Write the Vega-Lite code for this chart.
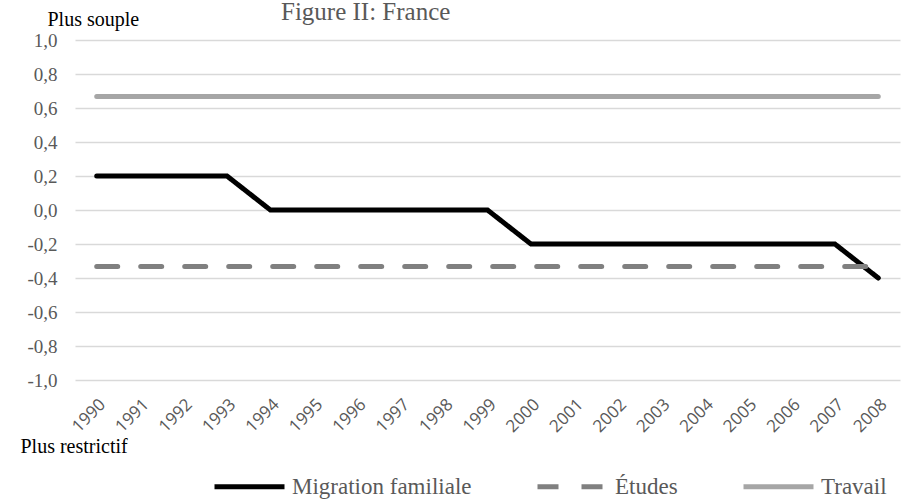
{
  "$schema": "https://vega.github.io/schema/vega-lite/v6.json",
  "width": 825,
  "height": 340,
  "autosize": {"type": "none"},
  "padding": {"left": 75, "top": 40, "right": 3, "bottom": 121},
  "background": "white",
  "title": {
    "text": "Figure II: France",
    "anchor": "start",
    "frame": "group",
    "dx": 206,
    "offset": -16,
    "font": "Liberation Serif",
    "fontSize": 25,
    "fontWeight": "normal",
    "color": "#595959"
  },
  "config": {"view": {"stroke": null}},
  "data": {
    "values": [
      {"year": "1990", "series": "Migration familiale", "value": 0.2},
      {"year": "1991", "series": "Migration familiale", "value": 0.2},
      {"year": "1992", "series": "Migration familiale", "value": 0.2},
      {"year": "1993", "series": "Migration familiale", "value": 0.2},
      {"year": "1994", "series": "Migration familiale", "value": 0},
      {"year": "1995", "series": "Migration familiale", "value": 0},
      {"year": "1996", "series": "Migration familiale", "value": 0},
      {"year": "1997", "series": "Migration familiale", "value": 0},
      {"year": "1998", "series": "Migration familiale", "value": 0},
      {"year": "1999", "series": "Migration familiale", "value": 0},
      {"year": "2000", "series": "Migration familiale", "value": -0.2},
      {"year": "2001", "series": "Migration familiale", "value": -0.2},
      {"year": "2002", "series": "Migration familiale", "value": -0.2},
      {"year": "2003", "series": "Migration familiale", "value": -0.2},
      {"year": "2004", "series": "Migration familiale", "value": -0.2},
      {"year": "2005", "series": "Migration familiale", "value": -0.2},
      {"year": "2006", "series": "Migration familiale", "value": -0.2},
      {"year": "2007", "series": "Migration familiale", "value": -0.2},
      {"year": "2008", "series": "Migration familiale", "value": -0.4},
      {"year": "1990", "series": "Études", "value": -0.333},
      {"year": "1991", "series": "Études", "value": -0.333},
      {"year": "1992", "series": "Études", "value": -0.333},
      {"year": "1993", "series": "Études", "value": -0.333},
      {"year": "1994", "series": "Études", "value": -0.333},
      {"year": "1995", "series": "Études", "value": -0.333},
      {"year": "1996", "series": "Études", "value": -0.333},
      {"year": "1997", "series": "Études", "value": -0.333},
      {"year": "1998", "series": "Études", "value": -0.333},
      {"year": "1999", "series": "Études", "value": -0.333},
      {"year": "2000", "series": "Études", "value": -0.333},
      {"year": "2001", "series": "Études", "value": -0.333},
      {"year": "2002", "series": "Études", "value": -0.333},
      {"year": "2003", "series": "Études", "value": -0.333},
      {"year": "2004", "series": "Études", "value": -0.333},
      {"year": "2005", "series": "Études", "value": -0.333},
      {"year": "2006", "series": "Études", "value": -0.333},
      {"year": "2007", "series": "Études", "value": -0.333},
      {"year": "2008", "series": "Études", "value": -0.333},
      {"year": "1990", "series": "Travail", "value": 0.667},
      {"year": "1991", "series": "Travail", "value": 0.667},
      {"year": "1992", "series": "Travail", "value": 0.667},
      {"year": "1993", "series": "Travail", "value": 0.667},
      {"year": "1994", "series": "Travail", "value": 0.667},
      {"year": "1995", "series": "Travail", "value": 0.667},
      {"year": "1996", "series": "Travail", "value": 0.667},
      {"year": "1997", "series": "Travail", "value": 0.667},
      {"year": "1998", "series": "Travail", "value": 0.667},
      {"year": "1999", "series": "Travail", "value": 0.667},
      {"year": "2000", "series": "Travail", "value": 0.667},
      {"year": "2001", "series": "Travail", "value": 0.667},
      {"year": "2002", "series": "Travail", "value": 0.667},
      {"year": "2003", "series": "Travail", "value": 0.667},
      {"year": "2004", "series": "Travail", "value": 0.667},
      {"year": "2005", "series": "Travail", "value": 0.667},
      {"year": "2006", "series": "Travail", "value": 0.667},
      {"year": "2007", "series": "Travail", "value": 0.667},
      {"year": "2008", "series": "Travail", "value": 0.667}
    ]
  },
  "mark": {"type": "line", "strokeWidth": 5, "strokeCap": "round", "strokeJoin": "miter"},
  "encoding": {
    "x": {
      "field": "year",
      "type": "ordinal",
      "scale": {"type": "point", "padding": 0.5},
      "axis": {
        "title": "Plus restrictif",
        "titleX": -55,
        "titleY": 72,
        "titleAlign": "left",
        "titleAnchor": null,
        "titleBaseline": "alphabetic",
        "titleFont": "Liberation Serif",
        "titleFontSize": 20,
        "titleFontWeight": "normal",
        "titleColor": "#000000",
        "labelAngle": -45,
        "labelFont": "Open Sans",
        "labelFontSize": 17,
        "labelColor": "#595959",
        "labelPadding": 16,
        "domain": false,
        "ticks": false,
        "grid": false
      }
    },
    "y": {
      "field": "value",
      "type": "quantitative",
      "scale": {"domain": [-1, 1], "nice": false, "zero": false},
      "axis": {
        "title": "Plus souple",
        "titleAngle": 0,
        "titleX": -28,
        "titleY": -15,
        "titleAlign": "left",
        "titleAnchor": null,
        "titleBaseline": "alphabetic",
        "titleFont": "Liberation Serif",
        "titleFontSize": 20,
        "titleFontWeight": "normal",
        "titleColor": "#000000",
        "values": [-1, -0.8, -0.6, -0.4, -0.2, 0, 0.2, 0.4, 0.6, 0.8, 1],
        "labelExpr": "replace(replace(format(datum.value, '.1f'), '.', ','), '\u2212', '-')",
        "labelFont": "Liberation Serif",
        "labelFontSize": 19,
        "labelColor": "#595959",
        "labelPadding": 18,
        "domain": false,
        "ticks": false,
        "grid": true,
        "gridColor": "#d9d9d9",
        "gridWidth": 1.5
      }
    },
    "color": {
      "field": "series",
      "type": "nominal",
      "scale": {"domain": ["Migration familiale", "Études", "Travail"], "range": ["#000000", "#808080", "#a6a6a6"]},
      "legend": {
        "title": null,
        "orient": "none",
        "legendX": 137,
        "legendY": 409,
        "direction": "horizontal",
        "columns": 3,
        "columnPadding": 55,
        "symbolType": "stroke",
        "symbolSize": 4900,
        "symbolStrokeWidth": 5,
        "labelFont": "Liberation Serif",
        "labelFontSize": 23,
        "labelColor": "#595959",
        "labelOffset": 5,
        "labelLimit": 400
      }
    },
    "strokeDash": {
      "field": "series",
      "type": "nominal",
      "scale": {"domain": ["Migration familiale", "Études", "Travail"], "range": [[1, 0], [21, 23], [1, 0]]},
      "legend": null
    }
  }
}
